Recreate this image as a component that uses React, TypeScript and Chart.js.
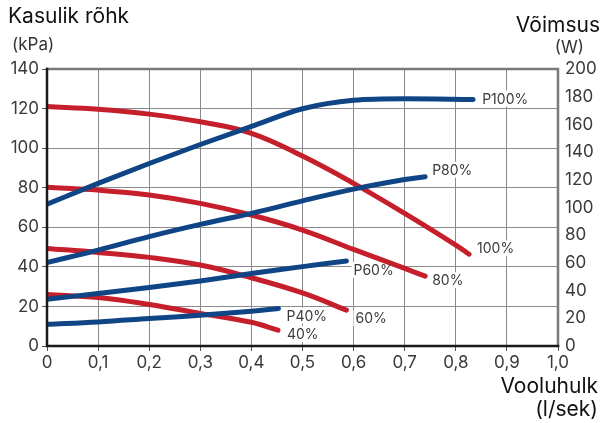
import React, { useEffect, useRef } from "react";
import { Chart, registerables } from "chart.js";

Chart.register(...registerables);

// Flow (l/sek) and useful pressure (kPa) for each pump speed
const flow100 = [0, 0.1, 0.2, 0.3, 0.4, 0.5, 0.6, 0.7, 0.8, 0.826];
const pressure100 = [121, 119.7, 117.2, 113.3, 107.5, 96, 82.2, 67, 51, 46.4];
const flow80 = [0, 0.1, 0.2, 0.3, 0.4, 0.5, 0.6, 0.7, 0.74];
const pressure80 = [80.2, 78.8, 76.3, 72.1, 66.2, 58.6, 48.8, 39.2, 35.3];
const flow60 = [0, 0.1, 0.2, 0.3, 0.4, 0.5, 0.586];
const pressure60 = [49.3, 47.3, 44.8, 40.9, 34.5, 26.8, 18.1];
const flow40 = [0, 0.1, 0.2, 0.3, 0.4, 0.452];
const pressure40 = [26, 24.5, 21, 16.5, 12, 8];

// Flow (l/sek) and power (W) for each pump speed
const pflow100 = [0, 0.1, 0.2, 0.3, 0.4, 0.5, 0.6, 0.7, 0.834];
const power100 = [102.4, 117.4, 131.8, 145.5, 158.5, 171.3, 177.4, 178.5, 178];
const pflow80 = [0, 0.1, 0.2, 0.3, 0.4, 0.5, 0.6, 0.7, 0.74];
const power80 = [60.3, 69.2, 79, 87.8, 95.8, 104.8, 113.3, 120.2, 122.2];
const pflow60 = [0, 0.1, 0.2, 0.3, 0.4, 0.5, 0.586];
const power60 = [33.8, 37.9, 42.2, 47, 52.3, 57.3, 61.4];
const pflow40 = [0, 0.1, 0.2, 0.3, 0.4, 0.453];
const power40 = [15.7, 17.4, 19.8, 22.2, 25.1, 27];

const pressureLabels = ["100%", "80%", "60%", "40%"];
const powerLabels = ["P100%", "P80%", "P60%", "P40%"];

const RED = "#c61f2c";
const BLUE = "#0f4585";
const FONT = "Inter, 'Noto Sans', sans-serif";

const pts = (xs: number[], ys: number[]) => xs.map((x, i) => ({ x, y: ys[i] }));

// label offsets from the end of each curve (style only)
const labelOffsets: Record<string, [number, number]> = {
  "P100%": [9, -1],
  "P80%": [7, -7],
  "P60%": [7, 9],
  "P40%": [8, 7],
  "100%": [8, -6],
  "80%": [7, 4],
  "60%": [9, 8],
  "40%": [9, 4],
};

const labelPos = (chart: any, i: number, label: string) => {
  const meta = chart.getDatasetMeta(i);
  const last = meta.data[meta.data.length - 1];
  const off = labelOffsets[label] || [8, 0];
  return { tx: last.x + off[0], ty: last.y + off[1] };
};

const framePlugin = {
  id: "frameAndLabels",
  beforeDatasetsDraw(chart: any) {
    const { ctx } = chart;
    ctx.save();
    ctx.font = `14px ${FONT}`;
    chart.data.datasets.forEach((ds: any, i: number) => {
      const { tx, ty } = labelPos(chart, i, ds.label);
      const w = ctx.measureText(ds.label).width;
      ctx.fillStyle = "#ffffff";
      ctx.fillRect(tx - 2, ty - 8, w + 4, 16);
    });
    ctx.restore();
  },
  afterDatasetsDraw(chart: any) {
    const { ctx, chartArea } = chart;
    const { left, right, top, bottom } = chartArea;
    ctx.save();
    ctx.font = `14px ${FONT}`;
    ctx.textBaseline = "middle";
    ctx.textAlign = "left";
    chart.data.datasets.forEach((ds: any, i: number) => {
      const { tx, ty } = labelPos(chart, i, ds.label);
      ctx.fillStyle = "#3a3a3a";
      ctx.fillText(ds.label, tx, ty + 1);
    });
    ctx.lineCap = "square";
    ctx.strokeStyle = "#7a7a7a";
    ctx.lineWidth = 2.5;
    ctx.beginPath();
    ctx.moveTo(left, top);
    ctx.lineTo(right, top);
    ctx.lineTo(right, bottom);
    ctx.stroke();
    ctx.strokeStyle = "#1a1a1a";
    ctx.lineWidth = 2.5;
    ctx.beginPath();
    ctx.moveTo(left, top);
    ctx.lineTo(left, bottom);
    ctx.lineTo(right, bottom);
    ctx.stroke();
    ctx.restore();
  },
  afterDraw(chart: any) {
    const { ctx } = chart;
    ctx.save();
    ctx.textBaseline = "middle";
    ctx.fillStyle = "#111111";
    ctx.font = `21px ${FONT}`;
    ctx.textAlign = "left";
    ctx.fillText("Kasulik rõhk", 8, 17);
    ctx.textAlign = "right";
    ctx.fillText("Võimsus", 600, 26);
    ctx.fillText("Vooluhulk", 598, 387);
    ctx.fillText("(l/sek)", 598, 410);
    ctx.fillStyle = "#333333";
    ctx.font = `17px ${FONT}`;
    ctx.textAlign = "left";
    ctx.fillText("(kPa)", 12, 45);
    ctx.textAlign = "right";
    ctx.fillText("(W)", 584, 48);
    ctx.restore();
  },
};

export default function App() {
  const ref = useRef<HTMLCanvasElement | null>(null);
  useEffect(() => {
    if (!ref.current) return;
    const lineStyle = (color: string) => ({
      borderColor: color,
      backgroundColor: color,
      borderWidth: 5,
      borderCapStyle: "round" as const,
      pointRadius: 0,
      tension: 0.4,
      fill: false,
    });
    const chart = new Chart(ref.current, {
      type: "line",
      data: {
        datasets: [
          { label: powerLabels[0], data: pts(pflow100, power100), yAxisID: "yW", ...lineStyle(BLUE), cubicInterpolationMode: "monotone" as const },
          { label: powerLabels[1], data: pts(pflow80, power80), yAxisID: "yW", ...lineStyle(BLUE) },
          { label: powerLabels[2], data: pts(pflow60, power60), yAxisID: "yW", ...lineStyle(BLUE) },
          { label: powerLabels[3], data: pts(pflow40, power40), yAxisID: "yW", ...lineStyle(BLUE) },
          { label: pressureLabels[0], data: pts(flow100, pressure100), yAxisID: "y", ...lineStyle(RED) },
          { label: pressureLabels[1], data: pts(flow80, pressure80), yAxisID: "y", ...lineStyle(RED) },
          { label: pressureLabels[2], data: pts(flow60, pressure60), yAxisID: "y", ...lineStyle(RED) },
          { label: pressureLabels[3], data: pts(flow40, pressure40), yAxisID: "y", ...lineStyle(RED) },
        ],
      },
      options: {
        responsive: false,
        animation: false,
        layout: { padding: { top: 69, left: 0, right: 0, bottom: 0 } },
        plugins: { legend: { display: false }, tooltip: { enabled: false } },
        scales: {
          x: {
            type: "linear",
            min: 0,
            max: 1,
            border: { display: false },
            grid: { color: "#8a8a8a", lineWidth: 1, tickLength: 5, tickColor: "#555" },
            ticks: {
              stepSize: 0.1,
              padding: 2,
              color: "#3a3a3a",
              font: { family: FONT, size: 17 },
              maxRotation: 0,
              callback: (v: any) => (v === 0 ? "0" : Number(v).toFixed(1).replace(".", ",")),
            },
            afterFit: (s: any) => {
              s.height = 77;
            },
          },
          y: {
            position: "left",
            min: 0,
            max: 140,
            border: { display: false },
            grid: { color: "#8a8a8a", lineWidth: 1, tickLength: 5, tickColor: "#555" },
            ticks: {
              stepSize: 20,
              padding: 3,
              color: "#3a3a3a",
              font: { family: FONT, size: 17 },
            },
            afterFit: (s: any) => {
              s.width = 47;
            },
          },
          yW: {
            position: "right",
            min: 0,
            max: 200,
            border: { display: false },
            grid: { display: false, drawTicks: false, drawOnChartArea: false },
            ticks: {
              stepSize: 20,
              padding: 7,
              color: "#3a3a3a",
              font: { family: FONT, size: 17 },
            },
            afterFit: (s: any) => {
              s.width = 45;
            },
          },
        },
      },
      plugins: [framePlugin],
    });
    return () => chart.destroy();
  }, []);
  return (
    <div style={{ position: "absolute", left: 0, top: 0, width: 603, height: 423, background: "#fff" }}>
      <canvas ref={ref} width={603} height={423} />
    </div>
  );
}
